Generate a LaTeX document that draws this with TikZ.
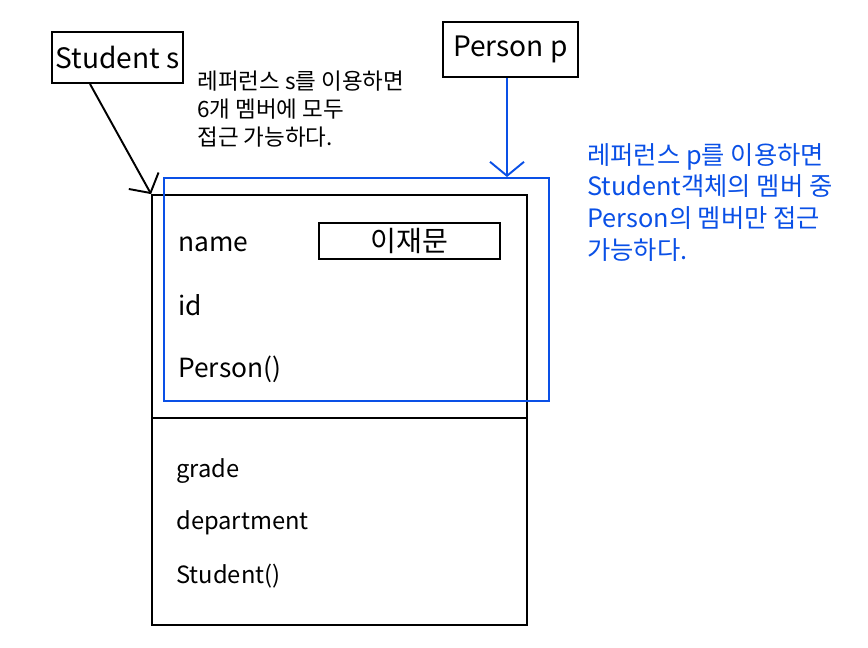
\documentclass[tikz,border=0pt]{standalone}
\usepackage{fontspec}
\setmainfont{Noto Sans CJK KR}
\usetikzlibrary{arrows.meta, positioning}
\definecolor{refblue}{HTML}{0A50E6}

\begin{document}
\begin{tikzpicture}[
    x=0.02cm, y=-0.02cm,
    >={Straight Barb[length=0.28cm, width=0.68cm]},
    ref box/.style={draw, line width=1.1pt, inner sep=0pt,
        font=\fontsize{16}{19}\selectfont},
    obj frame/.style={draw, line width=1.1pt, inner sep=0pt},
    view frame/.style={draw=refblue, line width=1.1pt, inner sep=0pt},
    member/.style={anchor=base west, inner sep=0pt,
        font=\fontsize{15}{18}\selectfont},
    sub member/.style={anchor=base west, inner sep=0pt,
        font=\fontsize{13.5}{16}\selectfont},
    value box/.style={draw, line width=1.1pt, inner sep=0pt,
        font=\fontsize{16}{19}\selectfont},
    s note/.style={anchor=north west, inner sep=0pt, align=left,
        font=\fontsize{12.8}{15.8}\selectfont},
    p note/.style={anchor=north west, inner sep=0pt, align=left,
        text=refblue, font=\fontsize{14.4}{18}\selectfont},
    link/.style={line width=1.1pt, ->},
]
\useasboundingbox (0,0) rectangle (868,647);

% reference variables
\node[ref box, minimum width=2.62cm, minimum height=1.02cm] (sref) at (117.5,57.5) {Student s};
\node[ref box, minimum width=2.7cm, minimum height=1.1cm] (pref) at (510.5,49.5) {Person p};

% the Student object and the Person part of it
\node[obj frame, minimum width=7.5cm, minimum height=8.6cm] (obj) at (339.5,410) {};
\node[view frame, minimum width=7.7cm, minimum height=4.46cm] (pview) at (356.5,289.5) {};
\coordinate (divL) at (152,418);
\draw[line width=1.1pt] (divL) -- (divL -| obj.east);

% members
\node[member] (mname) at (178,251) {name};
\node[value box, minimum width=3.62cm, minimum height=0.72cm] (namebox) at (409.5,241) {이재문};
\node[member] (mid) at (178,315) {id};
\node[member] (mperson) at (178,377) {Person()};
\node[sub member] (mgrade) at (176,477) {grade};
\node[sub member] (mdept) at (176,529) {department};
\node[sub member] (mstudent) at (176,583) {Student()};

% notes
\node[s note] (snote) at (197,71) {레퍼런스 s를 이용하면\\6개 멤버에 모두\\접근 가능하다.};
\node[p note] (pnote) at (587,143) {레퍼런스 p를 이용하면\\Student객체의 멤버 중\\Person의 멤버만 접근\\가능하다.};

% arrows
\draw[link] ([xshift=-0.55cm]sref.south) -- (obj.north west);
\draw[link, refblue] ([xshift=-0.07cm]pref.south) -- ([xshift=-0.07cm]pref.south |- pview.north);

\end{tikzpicture}
\end{document}
